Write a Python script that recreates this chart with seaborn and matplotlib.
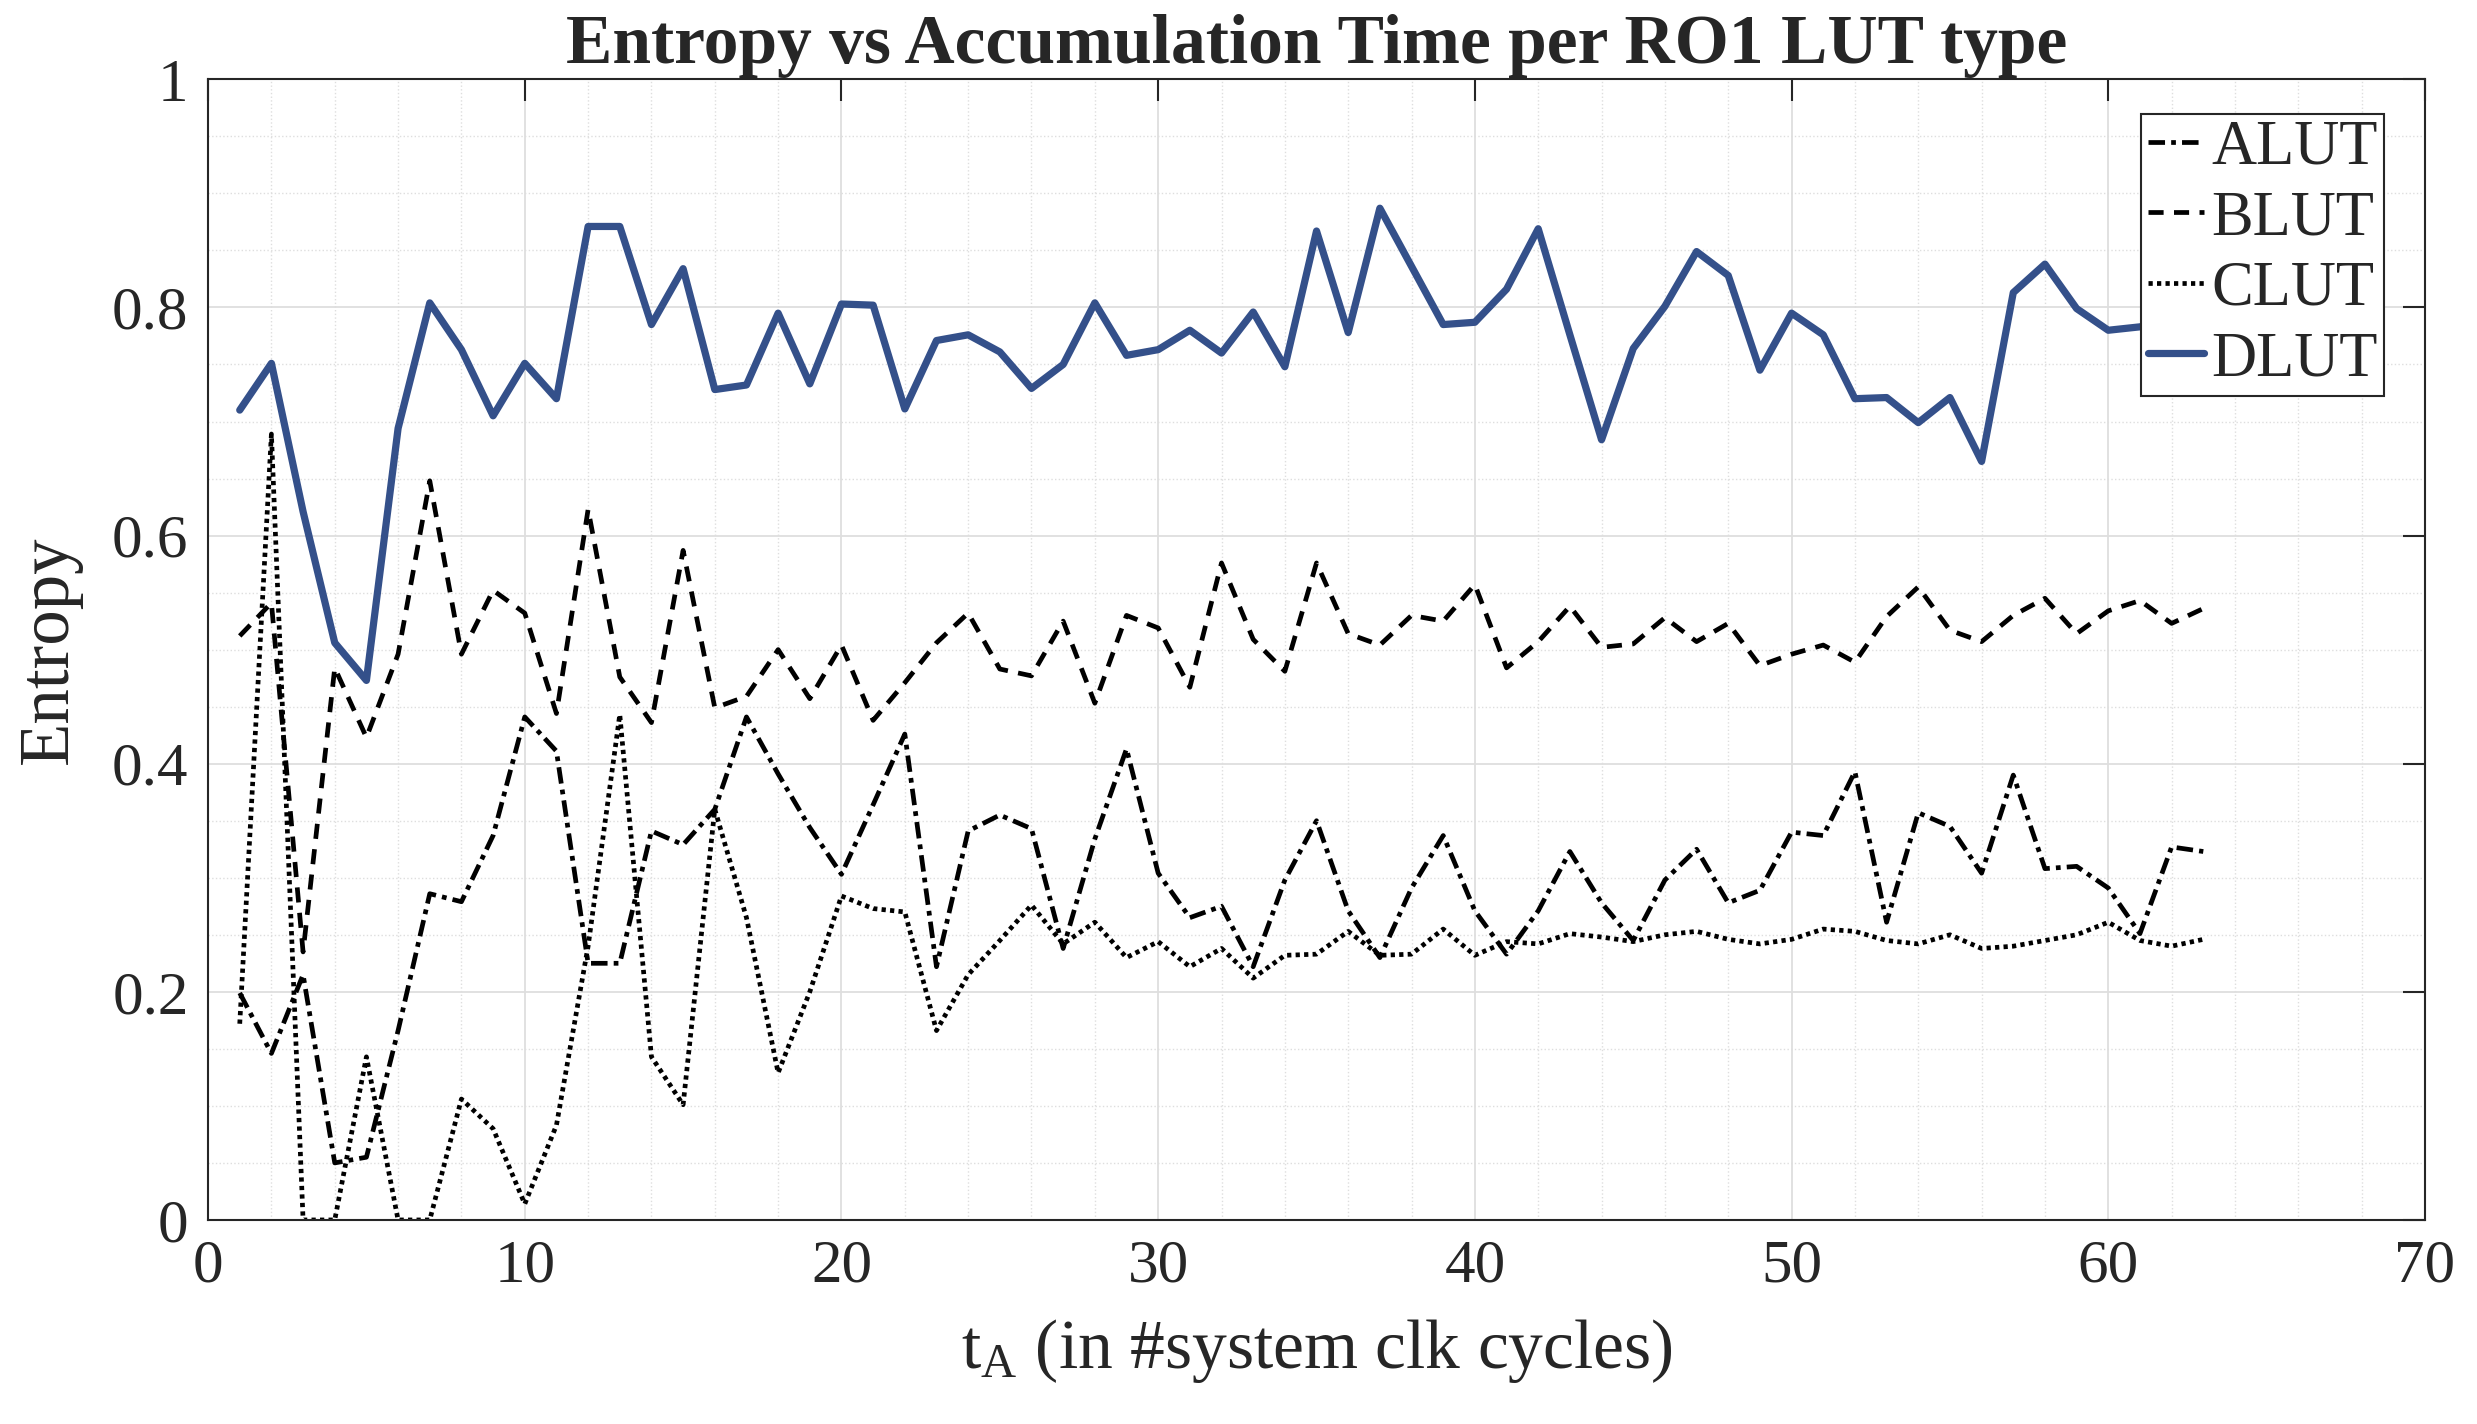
import numpy as np
import pandas as pd
import matplotlib
matplotlib.use("Agg")
import matplotlib.pyplot as plt
import seaborn as sns

# accumulation time t_A (system clk cycles)
t_a = list(range(1, 64))

alut = [0.199, 0.146, 0.215, 0.050, 0.055, 0.166, 0.286, 0.279, 0.337, 0.441,
        0.411, 0.225, 0.225, 0.341, 0.329, 0.360, 0.441, 0.391, 0.344, 0.303,
        0.364, 0.426, 0.222, 0.341, 0.355, 0.343, 0.238, 0.334, 0.413, 0.304,
        0.265, 0.275, 0.222, 0.298, 0.350, 0.271, 0.230, 0.291, 0.337, 0.271,
        0.233, 0.271, 0.323, 0.278, 0.245, 0.298, 0.325, 0.278, 0.289, 0.340,
        0.337, 0.393, 0.261, 0.357, 0.345, 0.304, 0.390, 0.308, 0.310, 0.291,
        0.251, 0.327, 0.323]

blut = [0.512, 0.541, 0.235, 0.484, 0.423, 0.496, 0.648, 0.496, 0.552, 0.532,
        0.444, 0.623, 0.476, 0.436, 0.587, 0.449, 0.459, 0.500, 0.457, 0.504,
        0.438, 0.471, 0.506, 0.532, 0.483, 0.477, 0.525, 0.453, 0.530, 0.519,
        0.467, 0.576, 0.509, 0.481, 0.576, 0.514, 0.504, 0.530, 0.525, 0.557,
        0.484, 0.507, 0.538, 0.502, 0.505, 0.528, 0.507, 0.523, 0.486, 0.496,
        0.504, 0.489, 0.529, 0.555, 0.517, 0.507, 0.530, 0.545, 0.514, 0.534,
        0.543, 0.523, 0.536]

clut = [0.172, 0.689, 0.000, 0.000, 0.143, 0.000, 0.000, 0.106, 0.080, 0.014,
        0.083, 0.240, 0.443, 0.143, 0.101, 0.360, 0.265, 0.129, 0.200, 0.284,
        0.273, 0.270, 0.166, 0.215, 0.245, 0.276, 0.242, 0.261, 0.230, 0.244,
        0.222, 0.238, 0.212, 0.232, 0.233, 0.253, 0.232, 0.233, 0.255, 0.232,
        0.244, 0.242, 0.251, 0.248, 0.244, 0.250, 0.253, 0.246, 0.242, 0.246,
        0.255, 0.253, 0.245, 0.242, 0.250, 0.238, 0.240, 0.245, 0.250, 0.261,
        0.245, 0.240, 0.246]

dlut = [0.710, 0.751, 0.621, 0.506, 0.473, 0.694, 0.804, 0.763, 0.705, 0.751,
        0.720, 0.871, 0.871, 0.785, 0.834, 0.728, 0.732, 0.795, 0.733, 0.803,
        0.802, 0.711, 0.771, 0.776, 0.761, 0.729, 0.750, 0.804, 0.758, 0.763,
        0.780, 0.760, 0.796, 0.748, 0.867, 0.778, 0.887, 0.836, 0.785, 0.787,
        0.816, 0.869, 0.776, 0.684, 0.764, 0.801, 0.849, 0.828, 0.745, 0.795,
        0.776, 0.720, 0.721, 0.699, 0.721, 0.665, 0.813, 0.838, 0.799, 0.780,
        0.783, 0.790, 0.785]

lut_names = ["ALUT", "BLUT", "CLUT", "DLUT"]

df = pd.DataFrame({"t": t_a, "ALUT": alut, "BLUT": blut, "CLUT": clut, "DLUT": dlut})
long_df = df.melt(id_vars="t", var_name="LUT", value_name="Entropy")

sns.set_style("white")
plt.rcParams["font.family"] = ["Liberation Serif", "DejaVu Serif"]
plt.rcParams["mathtext.fontset"] = "custom"
plt.rcParams["mathtext.rm"] = "Liberation Serif"
plt.rcParams["mathtext.it"] = "Liberation Serif:italic"

fig = plt.figure(figsize=(24.77, 14.24), dpi=100)
ax = fig.add_axes([0.084, 0.1433, 0.895, 0.801])

palette = {"ALUT": "black", "BLUT": "black", "CLUT": "black", "DLUT": "#34508a"}
dashes = {"ALUT": (3.5, 1.3, 1.0, 1.3), "BLUT": (3.2, 2.2), "CLUT": (0.9, 0.9), "DLUT": ""}
sns.lineplot(data=long_df, x="t", y="Entropy", hue="LUT", style="LUT",
             palette=palette, dashes=dashes, hue_order=lut_names,
             style_order=lut_names, ax=ax, legend=True)

widths = {"ALUT": 3.4, "BLUT": 3.4, "CLUT": 3.4, "DLUT": 5.2}
for line, name in zip(ax.lines, lut_names):
    line.set_linewidth(widths[name])

ax.set_xlim(0, 70)
ax.set_ylim(0, 1)
ax.set_xticks(np.arange(0, 71, 10))
ax.set_xticks(np.arange(0, 71, 2), minor=True)
ax.set_yticks(np.arange(0, 1.01, 0.2))
ax.set_yticks(np.arange(0, 1.01, 0.05), minor=True)
ax.set_yticklabels(["0", "0.2", "0.4", "0.6", "0.8", "1"])
ax.grid(which="major", color="#dedede", linewidth=1.3, linestyle="-")
ax.grid(which="minor", color="#dedede", linewidth=1.0, linestyle=":")
ax.set_axisbelow(True)

ax.tick_params(which="major", direction="in", length=16, width=1.5,
               top=True, right=True, labelsize=44, pad=14, colors="#262626")
ax.tick_params(which="minor", length=0)
for s in ax.spines.values():
    s.set_color("#262626")
    s.set_linewidth(1.5)

ax.set_title("Entropy vs Accumulation Time per RO1 LUT type",
             fontsize=50, fontweight="bold", pad=12)
ax.set_xlabel(r"t$_\mathrm{A}$ (in #system clk cycles)", fontsize=50,
              color="#262626", labelpad=16)
ax.set_ylabel("Entropy", fontsize=51, color="#262626", labelpad=22)

handles, labels = ax.get_legend_handles_labels()
leg = ax.legend(handles, labels, loc="upper right", bbox_to_anchor=(0.9815, 0.970),
                borderaxespad=0, fontsize=45, frameon=True, fancybox=False,
                framealpha=1, edgecolor="#262626", handlelength=0.9,
                handletextpad=0.12, labelspacing=0.2, borderpad=0.1)
leg.get_frame().set_linewidth(1.5)
for h, name in zip(leg.get_lines(), lut_names):
    h.set_linewidth(widths[name])

fig.savefig("out.png", dpi=100)
